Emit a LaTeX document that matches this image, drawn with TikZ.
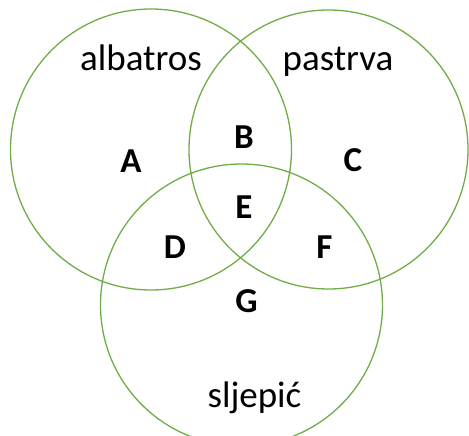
\documentclass[tikz,border=0pt]{standalone}
\usepackage{fontspec}
\setmainfont{Carlito}
\definecolor{venngreen}{HTML}{70AD47}
\begin{document}
\begin{tikzpicture}[x=1pt,y=-1pt,
  set/.style={circle,draw=venngreen,line width=1.3pt,inner sep=0pt,outer sep=0pt,minimum size=#1},
  word/.style={anchor=base,inner sep=0pt,font=\fontsize{37}{40}\selectfont},
  region/.style={anchor=base,inner sep=0pt,font=\fontsize{35}{40}\selectfont\bfseries}]
\useasboundingbox (0,0) rectangle (469,436);
\clip (0,0) rectangle (469,436);
\node[set=281pt] (left) at (151,149.5) {};
\node[set=279pt] (right) at (328.5,149.5) {};
\node[set=282pt] (bottom) at (241.5,305) {};
\node[word] (albatros) at (141,70.5) {albatros};
\node[word] (pastrva) at (338,70.5) {pastrva};
\node[word] (sljepic) at (254.5,407) {sljepić};
\node[region] (A) at (131,172) {A};
\node[region] (B) at (244,148) {B};
\node[region] (C) at (353,171.5) {C};
\node[region] (E) at (244,218) {E};
\node[region] (D) at (175,258) {D};
\node[region] (F) at (324.5,258) {F};
\node[region] (G) at (246.5,312.5) {G};
\end{tikzpicture}
\end{document}
